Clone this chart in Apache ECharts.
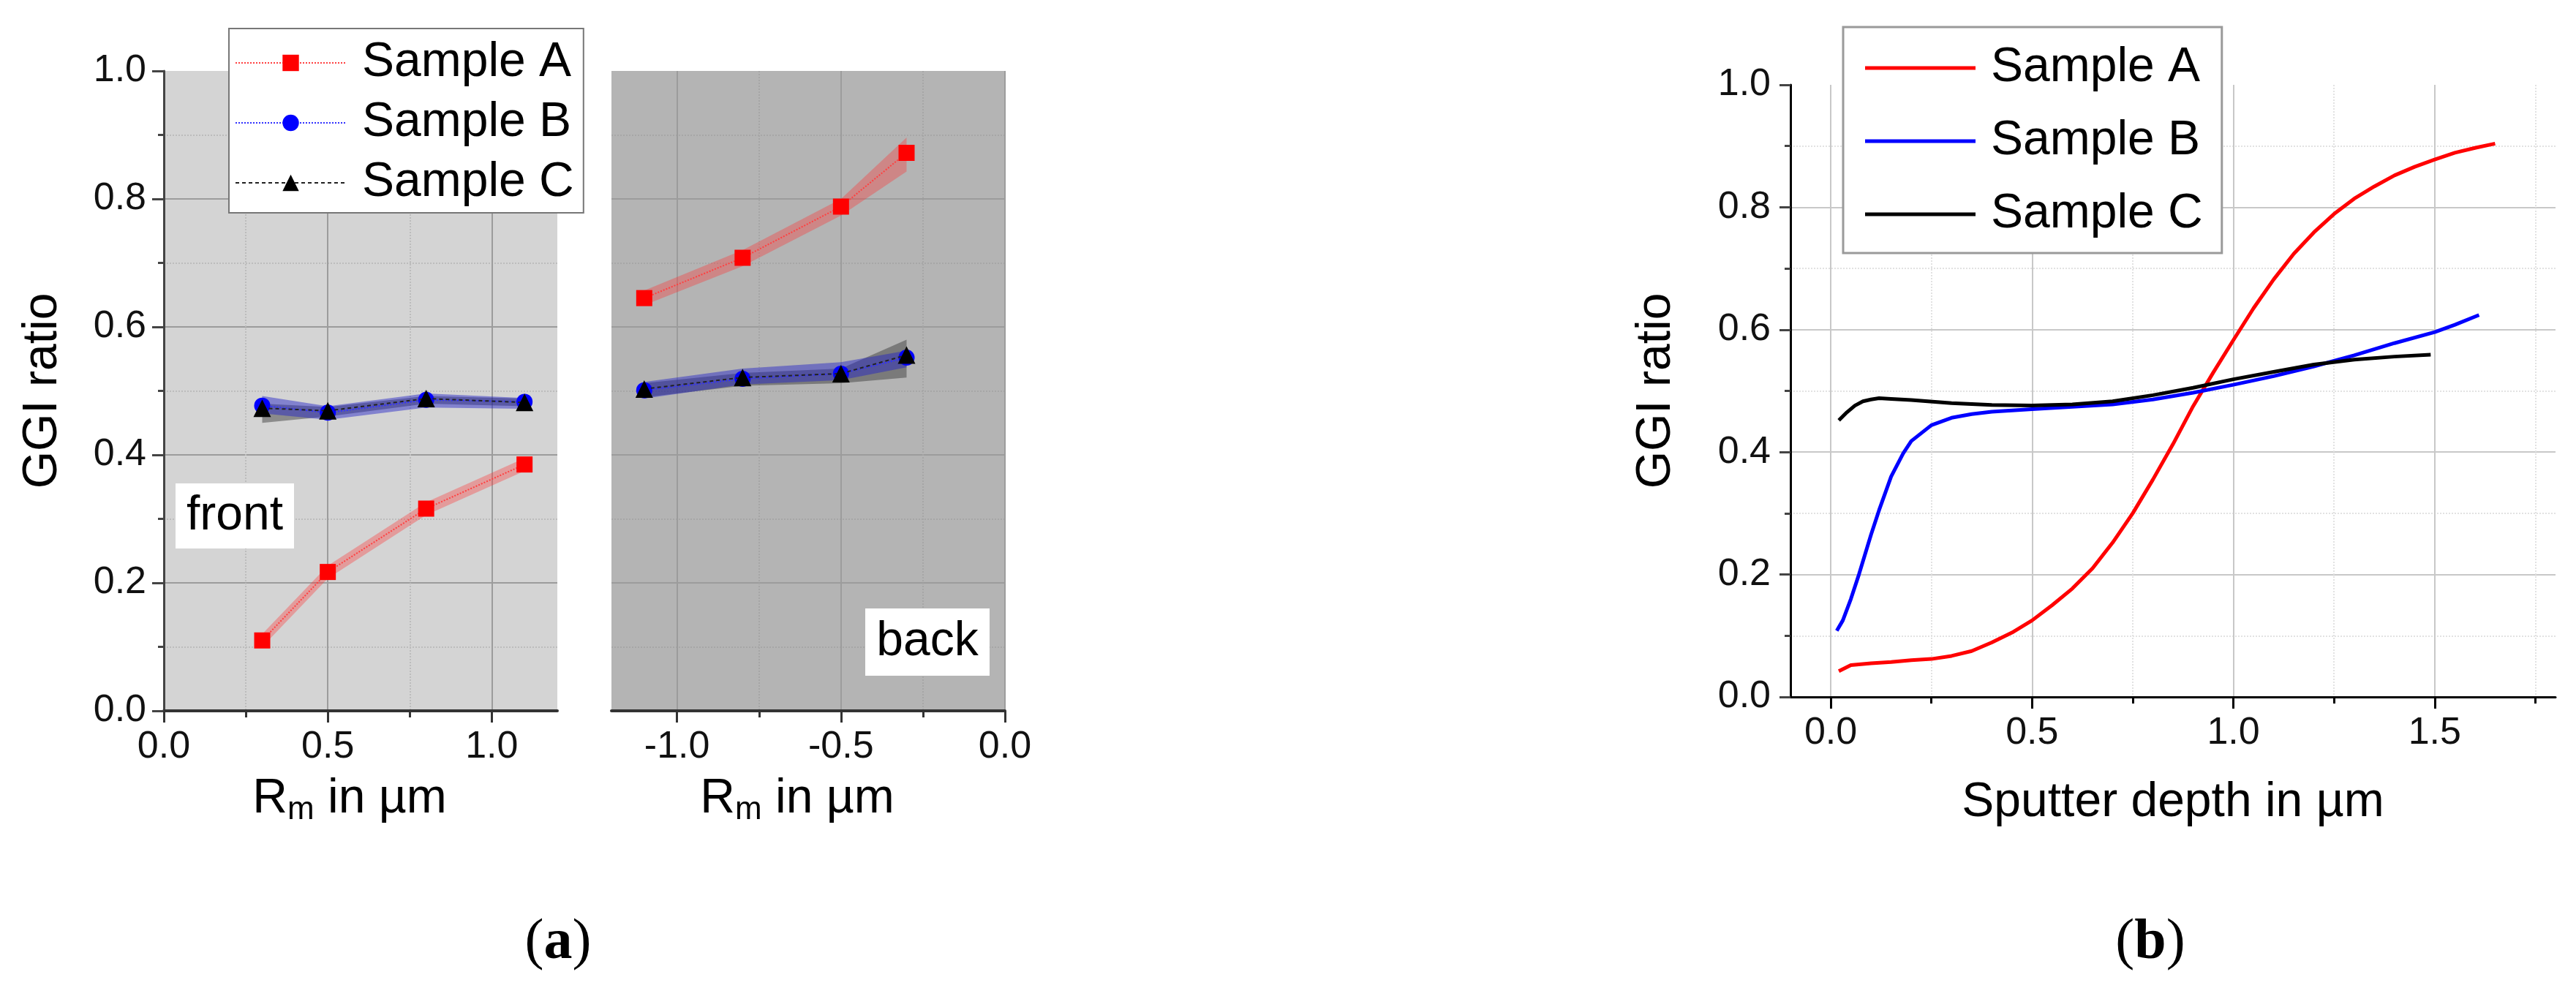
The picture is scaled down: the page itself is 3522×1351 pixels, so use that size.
<!DOCTYPE html>
<html><head><meta charset="utf-8">
<script src="https://cdn.jsdelivr.net/npm/echarts@6/dist/echarts.min.js"></script>
<style>html,body{margin:0;padding:0;background:#fff}#c{width:3522px;height:1351px}</style>
</head><body><div id="c"></div>
<script>
// ---------- panel (a) data ----------
const frontX = [0.3, 0.5, 0.8, 1.1];
const backX = [-1.1, -0.8, -0.5, -0.3];
const frontA = [0.110, 0.217, 0.316, 0.385];
const frontB = [0.477, 0.466, 0.486, 0.483];
const frontC = [0.473, 0.469, 0.488, 0.482];
const backA = [0.645, 0.708, 0.788, 0.872];
const backB = [0.501, 0.519, 0.527, 0.552];
const backC = [0.503, 0.521, 0.527, 0.556];
// uncertainty bands (lower / upper)
const frontA_lo = [0.100, 0.207, 0.306, 0.375];
const frontA_hi = [0.120, 0.227, 0.326, 0.395];
const frontB_lo = [0.465, 0.455, 0.474, 0.472];
const frontB_hi = [0.492, 0.476, 0.496, 0.489];
const frontC_lo = [0.450, 0.460, 0.480, 0.476];
const frontC_hi = [0.480, 0.475, 0.492, 0.488];
const backA_lo = [0.634, 0.695, 0.774, 0.843];
const backA_hi = [0.657, 0.720, 0.800, 0.896];
const backB_lo = [0.488, 0.510, 0.517, 0.537];
const backB_hi = [0.514, 0.535, 0.545, 0.563];
const backC_lo = [0.490, 0.508, 0.512, 0.521];
const backC_hi = [0.512, 0.528, 0.535, 0.580];

// ---------- panel (b) data ----------
const depthA = [0.02,0.05,0.1,0.15,0.2,0.25,0.3,0.35,0.4,0.45,0.5,0.55,0.6,0.65,0.7,0.75,0.8,0.85,0.9,0.95,1.0,1.05,1.1,1.15,1.2,1.25,1.3,1.35,1.4,1.45,1.5,1.55,1.6,1.65];
const ggiA   = [0.042,0.052,0.055,0.057,0.060,0.062,0.067,0.075,0.089,0.105,0.125,0.150,0.177,0.210,0.252,0.300,0.355,0.413,0.475,0.530,0.583,0.635,0.682,0.724,0.759,0.789,0.814,0.834,0.852,0.866,0.878,0.889,0.897,0.904];
const depthB = [0.015,0.03,0.05,0.07,0.1,0.12,0.15,0.18,0.2,0.25,0.3,0.35,0.4,0.5,0.6,0.7,0.8,0.9,1.0,1.1,1.2,1.3,1.4,1.5,1.55,1.61];
const ggiB   = [0.108,0.125,0.160,0.200,0.265,0.305,0.360,0.398,0.418,0.444,0.456,0.462,0.466,0.470,0.474,0.478,0.486,0.497,0.510,0.524,0.540,0.558,0.578,0.596,0.608,0.624];
const depthC = [0.02,0.04,0.06,0.08,0.1,0.12,0.15,0.2,0.3,0.4,0.5,0.6,0.7,0.8,0.9,1.0,1.1,1.2,1.3,1.4,1.49];
const ggiC   = [0.452,0.465,0.476,0.483,0.486,0.488,0.487,0.485,0.480,0.477,0.476,0.478,0.483,0.493,0.505,0.519,0.531,0.543,0.551,0.556,0.559];

// ---------- tick values ----------
const frontXTicks = [0, 0.5, 1.0];
const frontXMinor = [0.25, 0.75];
const backXTicks = [-1.0, -0.5, 0];
const backXMinor = [-0.75, -0.25];
const depthTicks = [0, 0.5, 1.0, 1.5];
const depthMinor = [0.25, 0.75, 1.25, 1.75];

const FONT = '"Liberation Sans", Arial, sans-serif';
const pairs = (xs, ys) => xs.map((x, i) => [x, ys[i]]);
const fmt1 = v => Number(v).toFixed(1);

function band(name, xi, xs, lo, hi, color) {
  return {
    type: 'custom', name, xAxisIndex: xi, yAxisIndex: xi, silent: true, z: 2,
    data: xs.map((x, i) => [x, lo[i], hi[i]]),
    encode: { x: 0, y: [1, 2] },
    renderItem: (params, api) => {
      if (params.dataIndex !== 0) return null;
      const pts = [];
      for (let i = 0; i < xs.length; i++) pts.push(api.coord([xs[i], hi[i]]));
      for (let i = xs.length - 1; i >= 0; i--) pts.push(api.coord([xs[i], lo[i]]));
      return { type: 'polygon', shape: { points: pts }, style: { fill: color } };
    }
  };
}
function markLine(name, xi, xs, ys, color, lineColor, symbol, size, dash, z) {
  return {
    type: 'line', name, xAxisIndex: xi, yAxisIndex: xi, data: pairs(xs, ys),
    symbol, symbolSize: size, showSymbol: true, z,
    itemStyle: { color },
    lineStyle: { color: lineColor, width: 2, type: dash },
    emphasis: { disabled: true }, animation: false
  };
}
function curve(name, xs, ys, color) {
  return {
    type: 'line', name, xAxisIndex: 4, yAxisIndex: 2, data: pairs(xs, ys),
    symbol: 'none', showSymbol: false, z: 3,
    itemStyle: { color }, lineStyle: { color, width: 5 },
    emphasis: { disabled: true }, animation: false
  };
}

const tickLbl = { fontSize: 52, fontFamily: FONT, color: '#111', margin: 24, formatter: fmt1 };
const rmName = {
  name: '{r|R}{s|m}{r| in µm}', nameLocation: 'middle', nameGap: 88,
  nameTextStyle: {
    padding: [0, 30, 0, 0],
    rich: {
      r: { fontSize: 66, fontFamily: FONT, color: '#000', lineHeight: 66 },
      s: { fontSize: 44, fontFamily: FONT, color: '#000', lineHeight: 44, padding: [30, 0, 0, 0] }
    }
  }
};

function mainX(grid, min, max, ticks, axCol, extra) {
  return Object.assign({
    type: 'value', gridIndex: grid, min, max, position: 'bottom',
    axisLine: { show: true, onZero: false, lineStyle: { color: axCol, width: 4 } },
    axisTick: { show: true, customValues: ticks, length: 16, lineStyle: { color: axCol, width: 3 } },
    axisLabel: Object.assign({ customValues: ticks }, tickLbl),
    splitLine: { show: true, lineStyle: { color: '#9c9c9c', width: 2 } }
  }, extra || {});
}
function minorX(grid, min, max, ticks, axCol, gridCol) {
  return {
    type: 'value', gridIndex: grid, min, max, position: 'bottom',
    axisLine: { show: false, onZero: false },
    axisTick: { show: true, customValues: ticks, length: 9, lineStyle: { color: axCol, width: 3 } },
    axisLabel: { show: false, customValues: ticks },
    splitLine: { show: true, lineStyle: { color: gridCol, width: 2, type: 'dotted' } }
  };
}

const option = {
  animation: false,
  backgroundColor: '#ffffff',
  grid: [
    { left: 224, top: 97, width: 538, height: 875, show: true, backgroundColor: '#d4d4d4', borderWidth: 0, containLabel: false },
    { left: 836, top: 97, width: 538, height: 875, show: true, backgroundColor: '#b4b4b4', borderWidth: 0, containLabel: false },
    { left: 2448, top: 116, width: 1046, height: 837, show: false, containLabel: false }
  ],
  xAxis: [
    mainX(0, 0, 1.2, frontXTicks, '#333', rmName),
    mainX(1, -1.2, 0, backXTicks, '#333', rmName),
    minorX(0, 0, 1.2, frontXMinor, '#333', '#bcbcbc'),
    minorX(1, -1.2, 0, backXMinor, '#333', '#a6a6a6'),
    mainX(2, -0.1, 1.8, depthTicks, '#000', {
      name: 'Sputter depth in µm', nameLocation: 'middle', nameGap: 112,
      nameTextStyle: { fontSize: 66, fontFamily: FONT, color: '#000' },
      axisLine: { show: true, onZero: false, lineStyle: { color: '#000', width: 3 } },
      splitLine: { show: true, lineStyle: { color: '#c8c8c8', width: 2 } }
    }),
    minorX(2, -0.1, 1.8, depthMinor, '#000', '#e2e2e2')
  ],
  yAxis: [
    {
      type: 'value', gridIndex: 0, min: 0, max: 1, interval: 0.2,
      name: 'GGI ratio', nameLocation: 'middle', nameGap: 132,
      nameTextStyle: { fontSize: 66, fontFamily: FONT, color: '#000' },
      axisLine: { show: true, onZero: false, lineStyle: { color: '#444', width: 3 } },
      axisTick: { show: true, length: 16, lineStyle: { color: '#444', width: 3 } },
      minorTick: { show: true, splitNumber: 2, length: 8, lineStyle: { color: '#444', width: 3 } },
      axisLabel: tickLbl,
      splitLine: { show: true, showMinLine: false, showMaxLine: false, lineStyle: { color: '#9c9c9c', width: 2 } },
      minorSplitLine: { show: true, lineStyle: { color: '#bcbcbc', width: 2, type: 'dotted' } }
    },
    {
      type: 'value', gridIndex: 1, min: 0, max: 1, interval: 0.2,
      axisLine: { show: false }, axisTick: { show: false }, axisLabel: { show: false },
      minorTick: { show: false, splitNumber: 2 },
      splitLine: { show: true, showMinLine: false, showMaxLine: false, lineStyle: { color: '#9c9c9c', width: 2 } },
      minorSplitLine: { show: true, lineStyle: { color: '#a6a6a6', width: 2, type: 'dotted' } }
    },
    {
      type: 'value', gridIndex: 2, min: 0, max: 1, interval: 0.2,
      name: 'GGI ratio', nameLocation: 'middle', nameGap: 150,
      nameTextStyle: { fontSize: 66, fontFamily: FONT, color: '#000' },
      axisLine: { show: true, onZero: false, lineStyle: { color: '#000', width: 3 } },
      axisTick: { show: true, length: 15, lineStyle: { color: '#444', width: 3 } },
      minorTick: { show: true, splitNumber: 2, length: 8, lineStyle: { color: '#444', width: 3 } },
      axisLabel: Object.assign({}, tickLbl, { margin: 27 }),
      splitLine: { show: true, showMinLine: false, showMaxLine: false, lineStyle: { color: '#c8c8c8', width: 2 } },
      minorSplitLine: { show: true, lineStyle: { color: '#e2e2e2', width: 2, type: 'dotted' } }
    }
  ],
  legend: [
    {
      data: ['Sample A', 'Sample B', 'Sample C'],
      orient: 'vertical', left: 313, top: 39, padding: [14, 13, 8, 8],
      itemWidth: 151, itemHeight: 28, itemGap: 16,
      backgroundColor: '#ffffff', borderColor: '#777', borderWidth: 2, borderRadius: 0,
      selectedMode: false, z: 10,
      textStyle: { fontSize: 66, fontFamily: FONT, color: '#000', lineHeight: 66, padding: [0, 0, 0, 17] }
    },
    {
      data: ['b:Sample A', 'b:Sample B', 'b:Sample C'],
      formatter: n => n.replace('b:', ''),
      orient: 'vertical', left: 2520, top: 37, padding: [23, 26, 20, 30],
      icon: 'rect', itemWidth: 151, itemHeight: 5, itemGap: 34,
      backgroundColor: '#ffffff', borderColor: '#9a9a9a', borderWidth: 3, borderRadius: 0,
      selectedMode: false, z: 10,
      textStyle: { fontSize: 66, fontFamily: FONT, color: '#000', lineHeight: 66, padding: [0, 0, 0, 16] }
    }
  ],
  series: [
    // bands (drawn first)
    band('bFC', 0, frontX, frontC_lo, frontC_hi, 'rgba(50,50,50,0.45)'),
    band('bFB', 0, frontX, frontB_lo, frontB_hi, 'rgba(30,30,200,0.45)'),
    band('bFA', 0, frontX, frontA_lo, frontA_hi, 'rgba(255,50,50,0.35)'),
    band('bBC', 1, backX, backC_lo, backC_hi, 'rgba(50,50,50,0.45)'),
    band('bBB', 1, backX, backB_lo, backB_hi, 'rgba(30,30,200,0.45)'),
    band('bBA', 1, backX, backA_lo, backA_hi, 'rgba(255,50,50,0.35)'),
    // front
    markLine('Sample A', 0, frontX, frontA, '#ff0000', '#ff4040', 'rect', 22, 'dotted', 4),
    markLine('Sample B', 0, frontX, frontB, '#0000ff', '#3030ff', 'circle', 22, 'dotted', 5),
    markLine('Sample C', 0, frontX, frontC, '#000000', '#222222', 'triangle', 24, [5, 4], 6),
    // back
    markLine('Sample A', 1, backX, backA, '#ff0000', '#ff4040', 'rect', 22, 'dotted', 4),
    markLine('Sample B', 1, backX, backB, '#0000ff', '#3030ff', 'circle', 22, 'dotted', 5),
    markLine('Sample C', 1, backX, backC, '#000000', '#222222', 'triangle', 24, [5, 4], 6),
    // panel b
    curve('b:Sample A', depthA, ggiA, '#ff0000'),
    curve('b:Sample B', depthB, ggiB, '#0000ff'),
    curve('b:Sample C', depthC, ggiC, '#000000')
  ],
  graphic: [
    { type: 'rect', shape: { x: 240, y: 661, width: 162, height: 89 }, style: { fill: '#ffffff' }, z: 8 },
    { type: 'text', x: 321, y: 706, z: 9, style: { text: 'front', fontSize: 66, fontFamily: FONT, fill: '#000', align: 'center', verticalAlign: 'middle' } },
    { type: 'rect', shape: { x: 1183, y: 832, width: 170, height: 92 }, style: { fill: '#ffffff' }, z: 8 },
    { type: 'text', x: 1268, y: 878, z: 9, style: { text: 'back', fontSize: 66, fontFamily: FONT, fill: '#000', align: 'center', verticalAlign: 'middle' } },
    { type: 'text', x: 763, y: 1290, z: 9, style: { text: '{p|(}{b|a}{p|)}', align: 'center', verticalAlign: 'middle',
        rich: { p: { fontSize: 78, fontFamily: '"Liberation Serif", serif', fill: '#000' }, b: { fontSize: 78, fontWeight: 'bold', fontFamily: '"Liberation Serif", serif', fill: '#000' } } } },
    { type: 'text', x: 2940, y: 1290, z: 9, style: { text: '{p|(}{b|b}{p|)}', align: 'center', verticalAlign: 'middle',
        rich: { p: { fontSize: 78, fontFamily: '"Liberation Serif", serif', fill: '#000' }, b: { fontSize: 78, fontWeight: 'bold', fontFamily: '"Liberation Serif", serif', fill: '#000' } } } }
  ]
};

const chart = echarts.init(document.getElementById('c'), null, { renderer: 'canvas' });
chart.setOption(option);
</script>
</body></html>
